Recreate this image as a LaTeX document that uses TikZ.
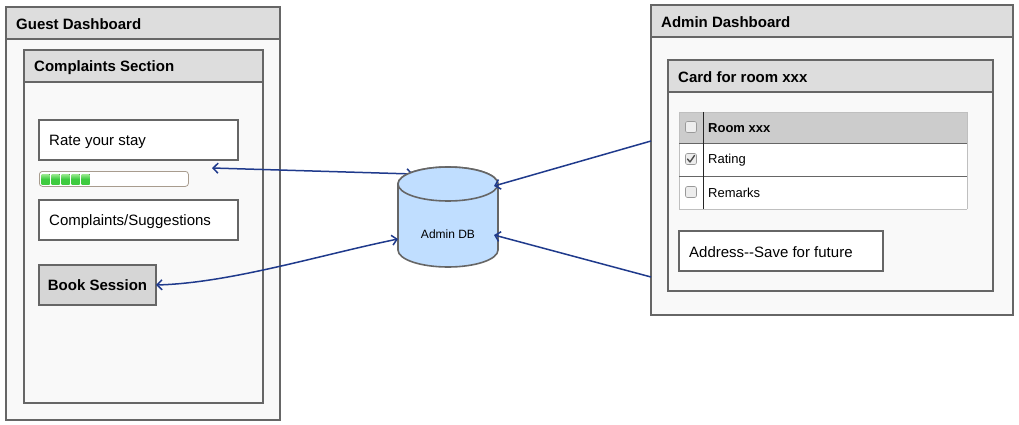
\documentclass[tikz,border=0pt]{standalone}
\usepackage{fontspec}
\setmainfont{Liberation Sans}
\usetikzlibrary{arrows.meta}
\definecolor{bord}{HTML}{666666}
\definecolor{hdr}{HTML}{DDDDDD}
\definecolor{bodyc}{HTML}{F9F9F9}
\definecolor{arr}{HTML}{1F3A8C}
\definecolor{dbfill}{HTML}{C0DEFF}
\definecolor{thdr}{HTML}{CCCCCC}
\definecolor{btn}{HTML}{D6D6D6}
\definecolor{pbar}{HTML}{A89C8E}
\definecolor{grn}{HTML}{3FCB3F}
\definecolor{grnl}{HTML}{9BEA8F}
\begin{document}
\begin{tikzpicture}[x=1pt,y=-1pt,
  box/.style={draw=bord, line width=1.6pt, inner sep=0pt, outer sep=0pt, anchor=north west},
  title/.style={font=\bfseries\fontsize{15}{18}\selectfont, anchor=west, inner sep=0pt, yshift=-1.2pt},
  label/.style={font=\fontsize{15}{18}\selectfont, anchor=west, inner sep=0pt, yshift=-1.5pt},
  small/.style={font=\fontsize{13}{16}\selectfont, anchor=west, inner sep=0pt, yshift=-1pt},
  tiny/.style={font=\fontsize{12}{14}\selectfont, inner sep=0pt},
  chk/.style={draw=black!40, fill=black!7, rounded corners=2pt, line width=0.6pt, minimum size=11pt, inner sep=0pt},
  conn/.style={draw=arr, line width=1.5pt, -{Straight Barb[length=5pt,width=10pt,line width=1.5pt]}},
  connb/.style={draw=arr, line width=1.5pt, {Straight Barb[length=5pt,width=10pt,line width=1.5pt]}-{Straight Barb[length=5pt,width=10pt,line width=1.5pt]}}
]
\useasboundingbox (0,0) rectangle (1019,425);
\fill[white] (0,0) rectangle (1019,425);

% Guest dashboard
\node[box, fill=bodyc, minimum width=274pt, minimum height=413pt] (guest) at (6,7) {};
\node[box, fill=hdr, minimum width=274pt, minimum height=32pt] (guesth) at (6,7) {};
\node[title] (guestt) at ([xshift=10pt]guesth.west) {Guest Dashboard};

% Complaints section
\node[box, fill=bodyc, minimum width=239pt, minimum height=353pt] (comp) at (24,50) {};
\node[box, fill=hdr, minimum width=239pt, minimum height=32pt] (comph) at (24,50) {};
\node[title] (compt) at ([xshift=10pt]comph.west) {Complaints Section};

\node[box, fill=white, minimum width=199pt, minimum height=40pt] (rate) at (39,120) {};
\node[label] (ratet) at ([xshift=10pt]rate.west) {Rate your stay};

% progress bar
\node[draw=pbar, fill=white, line width=0.8pt, rounded corners=3pt, anchor=north west, minimum width=149pt, minimum height=15pt, inner sep=0pt] (bar) at (39,171) {};
\foreach \i in {0,...,4} {
  \fill[top color=grnl, bottom color=grn, middle color=grn] (41.5+\i*10,174) rectangle (49.5+\i*10,184);
}

\node[box, fill=white, minimum width=199pt, minimum height=40pt] (sugg) at (39,200) {};
\node[label] (suggt) at ([xshift=10pt]sugg.west) {Complaints/Suggestions};

\node[box, fill=btn, minimum width=117pt, minimum height=40pt, text depth=0pt, font=\bfseries\fontsize{15}{18}\selectfont] (book) at (39,265) {Book Session};

% Admin dashboard
\node[box, fill=bodyc, minimum width=362pt, minimum height=310pt] (admin) at (651,5) {};
\node[box, fill=hdr, minimum width=362pt, minimum height=32pt] (adminh) at (651,5) {};
\node[title] (admint) at ([xshift=10pt]adminh.west) {Admin Dashboard};

\node[box, fill=bodyc, minimum width=325pt, minimum height=231pt] (card) at (668,60) {};
\node[box, fill=hdr, minimum width=325pt, minimum height=32pt] (cardh) at (668,60) {};
\node[title] (cardt) at ([xshift=10pt]cardh.west) {Card for room xxx};

% table
\fill[thdr] (679,112) rectangle (967,143);
\fill[white] (679,143) rectangle (967,209);
\draw[black!25, line width=0.8pt] (679,112) -- (967,112);
\draw[black!25, line width=0.8pt] (679,209) -- (967,209);
\draw[black!25, line width=0.8pt] (679,112) -- (679,209);
\draw[black!25, line width=0.8pt] (967,112) -- (967,209);
\draw[black!60, line width=0.8pt] (679,143.5) -- (967,143.5);
\draw[black!60, line width=0.8pt] (679,176.5) -- (967,176.5);
\draw[black!85, line width=0.8pt] (703.5,112) -- (703.5,209);
\node[chk] (c1) at (691,127) {};
\node[chk] (c2) at (691,159) {};
\node[chk] (c3) at (691,192) {};
\draw[black!70, line width=1.4pt, line cap=round, line join=round] (687.5,159) -- (690,162) -- (694.5,155.5);
\node[small, font=\bfseries\fontsize{13}{16}\selectfont] (r1) at (708,127) {Room xxx};
\node[small] (r2) at (708,159) {Rating};
\node[small] (r3) at (708,192) {Remarks};

\node[box, fill=white, minimum width=204pt, minimum height=40pt] (addr) at (679,231) {};
\node[label] (addrt) at ([xshift=10pt]addr.west) {Address-{}-Save for future};

% DB coordinates
\coordinate (dbtop) at (413,174);
\coordinate (dbr1) at (494,186);
\coordinate (dbr2) at (494,235);
\coordinate (dbl) at (398,239);
\coordinate (ratee) at (212,168);
\coordinate (adm1) at (651,141);
\coordinate (adm2) at (651,277);

\draw[connb] (ratee) -- (dbtop);

% cylinder
\draw[draw=bord, fill=dbfill, line width=1.6pt] (398,184) -- (398,250)
  arc[start angle=180, end angle=360, x radius=50pt, y radius=17pt]
  -- (498,184)
  arc[start angle=0, end angle=180, x radius=50pt, y radius=17pt] -- cycle;
\draw[draw=bord, fill=dbfill, line width=1.6pt] (448,184) ellipse[x radius=50pt, y radius=17pt];
\node[tiny] (db) at (448,234) {Admin DB};

\draw[conn] (adm1) -- (dbr1);
\draw[conn] (adm2) -- (dbr2);
\draw[connb] (book.east) .. controls (230,283) and (320,255) .. (dbl);
\end{tikzpicture}
\end{document}
